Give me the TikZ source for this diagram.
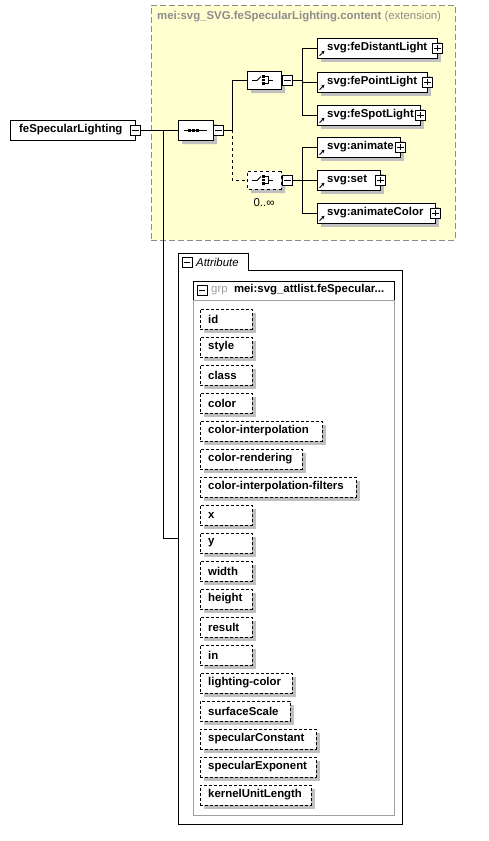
\documentclass[tikz,border=0pt]{standalone}
\usepackage{fontspec}
\setmainfont{Liberation Sans}
\usetikzlibrary{shapes.misc,shadows,arrows.meta}
\definecolor{yel}{HTML}{FFFFD0}
\definecolor{shd}{HTML}{C0C0C0}
\definecolor{ttl}{HTML}{8C8C8C}
\definecolor{grb}{HTML}{A0A0A0}
\newcommand\padtxt[3]{\makebox[#1pt][l]{\hspace*{#2pt}#3}}
\begin{document}
\begin{tikzpicture}[x=1pt,y=-1pt,
  fnt/.style={font=\bfseries\fontsize{11.4}{13}\selectfont},
  shad/.style={general shadow={fill=shd, shadow xshift=4pt, shadow yshift=-4pt}},
  elem/.style={draw, fill=white, inner sep=0, minimum height=20, anchor=west, fnt, shad},
  attr/.style={draw, dash pattern=on 3pt off 2pt, fill=white, inner sep=0, minimum height=20, anchor=west, fnt, shad},
  pm/.style={draw, fill=white, minimum size=10, inner sep=0},
  oct/.style={draw, fill=white, chamfered rectangle, chamfered rectangle xsep=5pt, chamfered rectangle ysep=0pt, chamfered rectangle angle=45, inner sep=0, minimum width=34, minimum height=18, shad},
  conn/.style={line width=0.8pt},
  ico/.style={line width=0.9pt}
]
\useasboundingbox (0,0) rectangle (489,841);
% yellow extension box
\node[draw=ttl, dash pattern=on 6pt off 3pt, fill=yel, anchor=north west, minimum width=304, minimum height=235, inner sep=0] (ext) at (151,5) {};
\node[anchor=west, text=ttl, inner sep=0, font=\fontsize{11.4}{13}\selectfont] (title) at (157,17) {\textbf{mei:svg\_SVG.feSpecularLighting.content} (extension)};

% main element
\node[draw, fill=white, inner sep=0, minimum height=20, anchor=west, fnt] (main) at (10,130) {\padtxt{125}{9}{feSpecularLighting}};
\node[pm] (mainm) at (main.east) {};
\draw ([xshift=2pt]mainm.west) -- ([xshift=-2pt]mainm.east);

% sequence
\node[oct, minimum height=20, minimum width=35] (seq) at (195.5,130) {};
\draw[ico] (184,130) -- (207,130);
\foreach \dx in {189,193,197} \fill (\dx-1.2,128.8) rectangle (\dx+1.5,131.5);
\node[pm, anchor=west] (seqm) at (seq.east) {};
\draw ([xshift=2pt]seqm.west) -- ([xshift=-2pt]seqm.east);

\draw[conn] (mainm.east) -- (seq.west);
\coordinate (b1) at (163,130);
\coordinate (attrW) at (178,538);
\draw[conn] (b1) |- (attrW);

% choice icon
\newcommand\choiceicon[1]{%
\begin{scope}[shift={(#1.center)}]
  \draw[ico] (-12,0.5) -- (-7,0.5) -- (-3,-3.5);
  \foreach \dy in {-3.8,0,3.8} \fill (-1.8,\dy-1.4) rectangle (1,\dy+1.4);
  \draw[ico] (1,-3.8) -- (4.5,-3.8) -- (4.5,3.8) -- (1,3.8);
  \draw[ico] (4.5,0) -- (8.5,0);
\end{scope}}

% choice 1
\node[oct] (ch1) at (264,80) {};
\choiceicon{ch1}
\node[pm, anchor=west] (ch1m) at ([xshift=1pt]ch1.east) {};
\draw ([xshift=2pt]ch1m.west) -- ([xshift=-2pt]ch1m.east);

% choice 2
\node[oct, dashed] (ch2) at (264,180) {};
\choiceicon{ch2}
\node[pm, anchor=west] (ch2m) at ([xshift=1pt]ch2.east) {};
\draw ([xshift=2pt]ch2m.west) -- ([xshift=-2pt]ch2m.east);
\node[inner sep=0, font=\fontsize{11.4}{13}\selectfont] (occ) at (264,203) {0..∞};

\coordinate (s1) at (232,130);
\draw[conn] (seqm.east) -- (s1);
\draw[conn] (s1) |- (ch1.west);
\draw[conn, dashed] (s1) |- (ch2.west);

% elements
\newcommand\elem[4]{%
  \node[elem] (#1) at (317,#2) {\padtxt{#3}{10}{#4}};
  \draw[-{Stealth[length=3.5pt,width=3.5pt]}, line width=0.9pt] ([shift={(2.5,-2.5)}]#1.south west) -- ++(5,-5);
  \node[pm] (#1p) at (#1.east) {};
  \draw ([xshift=2pt]#1p.west) -- ([xshift=-2pt]#1p.east);
  \draw ([yshift=-2pt]#1p.north) -- ([yshift=2pt]#1p.south);
}
\elem{e1}{48}{120}{svg:feDistantLight}
\elem{e2}{82}{110}{svg:fePointLight}
\elem{e3}{115}{103}{svg:feSpotLight}
\elem{e4}{147}{83}{svg:animate}
\elem{e5}{180}{63}{svg:set}
\elem{e6}{213}{118}{svg:animateColor}

\coordinate (c1) at (302,80);
\coordinate (c2) at (302,180);
\draw[conn] (ch1m.east) -- (c1);
\draw[conn] (c1) |- (e1.west);
\draw[conn] (c1) |- (e2.west);
\draw[conn] (c1) |- (e3.west);
\draw[conn] (ch2m.east) -- (c2);
\draw[conn] (c2) |- (e4.west);
\draw[conn] (c2) |- (e5.west);
\draw[conn] (c2) |- (e6.west);

% attribute box
\node[draw, fill=white, anchor=north west, minimum width=70, minimum height=18, inner sep=0] (tab) at (178,253) {};
\node[draw, fill=white, anchor=north west, minimum width=224, minimum height=554, inner sep=0] (abox) at (178,270) {};
\fill[white] (178.5,269) rectangle (247.5,271);
\node[pm, anchor=west] (tabm) at (182,262) {};
\draw ([xshift=2pt]tabm.west) -- ([xshift=-2pt]tabm.east);
\node[anchor=west, inner sep=0, font=\itshape\fontsize{11.4}{13}\selectfont] (tabt) at (196,262) {Attribute};

% group box
\node[draw=grb, fill=white, anchor=north west, minimum width=201, minimum height=534, inner sep=0] (gbox) at (193,281) {};
\draw (193,300) -- (193,281) -- (394,281) -- (394,300);
\draw[grb] (193,300) -- (394,300);
\node[pm, anchor=west] (gm) at (197,290) {};
\draw ([xshift=2pt]gm.west) -- ([xshift=-2pt]gm.east);
\node[anchor=west, inner sep=0, font=\fontsize{11.4}{13}\selectfont] (gt) at (211,290) {\textcolor{grb}{grp}\ \ \textbf{mei:svg\_attlist.feSpecular...}};

% attributes
\newcommand\att[4]{\node[attr] (#1) at (200,#2) {\padtxt{#3}{8}{#4}};}
\att{a1}{319}{52}{id}
\att{a2}{347}{52}{style}
\att{a3}{375}{52}{class}
\att{a4}{403}{52}{color}
\att{a5}{431}{122}{color-interpolation}
\att{a6}{459}{102}{color-rendering}
\att{a7}{487}{156}{color-interpolation-filters}
\att{a8}{515}{52}{x}
\att{a9}{543}{52}{y}
\att{a10}{571}{52}{width}
\att{a11}{599}{52}{height}
\att{a12}{627}{52}{result}
\att{a13}{655}{52}{in}
\att{a14}{683}{92}{lighting-color}
\att{a15}{711}{90}{surfaceScale}
\att{a16}{739}{116}{specularConstant}
\att{a17}{767}{116}{specularExponent}
\att{a18}{795}{111}{kernelUnitLength}
\end{tikzpicture}
\end{document}
